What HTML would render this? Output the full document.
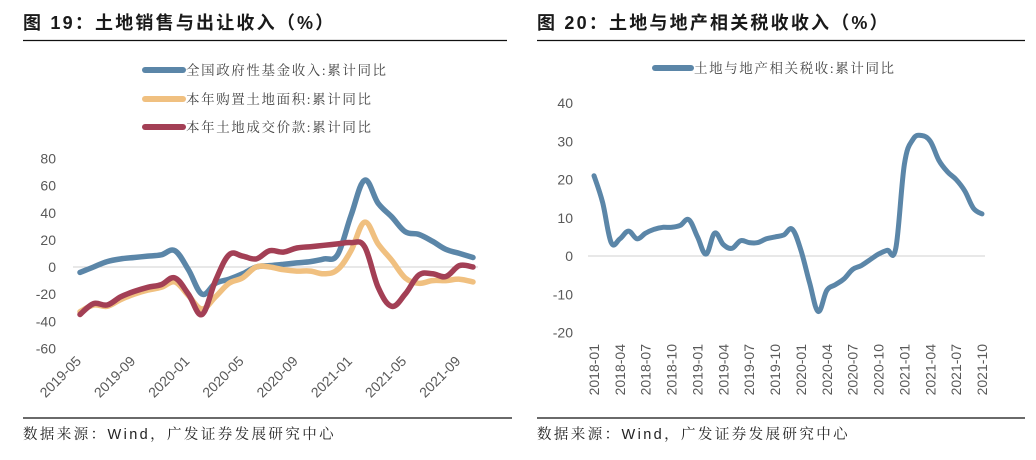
<!DOCTYPE html>
<html><head><meta charset="utf-8">
<style>
html,body{margin:0;padding:0;background:#fff;}
svg{display:block;}
.t{font-family:"Liberation Sans","Noto Sans CJK SC",sans-serif;font-weight:bold;font-size:18px;fill:#1a1a1a;letter-spacing:2.2px;}
.lg{font-family:"Liberation Serif","Noto Serif CJK SC",serif;font-size:13.5px;fill:#444;letter-spacing:1.6px;}
.src{font-family:"Liberation Sans","Noto Serif CJK SC",serif;font-size:14.5px;fill:#222;letter-spacing:2.4px;}
.tk{font-family:"Liberation Sans",sans-serif;font-size:14px;fill:#595959;}
</style></head>
<body>
<svg id="c" width="1036" height="460" viewBox="0 0 1036 460">
<text class="t" x="23" y="29">图 19：土地销售与出让收入（%）</text>
<text class="t" x="537" y="29">图 20：土地与地产相关税收收入（%）</text>
<line x1="23" y1="40.5" x2="507" y2="40.5" stroke="#111" stroke-width="1.3"/>
<line x1="537" y1="40.5" x2="1025" y2="40.5" stroke="#111" stroke-width="1.3"/>
<line x1="23" y1="418" x2="512" y2="418" stroke="#111" stroke-width="1.3"/>
<line x1="537" y1="418" x2="1025" y2="418" stroke="#111" stroke-width="1.3"/>
<text class="src" x="23" y="439">数据来源：Wind，广发证券发展研究中心</text>
<text class="src" x="537" y="439">数据来源：Wind，广发证券发展研究中心</text>

<g>
<line x1="145" y1="70" x2="183" y2="70" stroke="#5b86a8" stroke-width="6" stroke-linecap="round"/>
<text class="lg" x="186" y="75">全国政府性基金收入:累计同比</text>
<line x1="145" y1="99" x2="183" y2="99" stroke="#f0c080" stroke-width="6" stroke-linecap="round"/>
<text class="lg" x="186" y="104">本年购置土地面积:累计同比</text>
<line x1="145" y1="127" x2="183" y2="127" stroke="#a33f55" stroke-width="6" stroke-linecap="round"/>
<text class="lg" x="186" y="132">本年土地成交价款:累计同比</text>
</g>
<g>
<line x1="655" y1="68" x2="691" y2="68" stroke="#5b86a8" stroke-width="6" stroke-linecap="round"/>
<text class="lg" x="694" y="73">土地与地产相关税收:累计同比</text>
</g>
<g id="L"></g>
<g id="R"></g>
</svg>
<script>
// Left chart data (2019-05 .. 2021-10, monthly)
const leftCount = 30;
const leftTickLabels = ["2019-05","2019-09","2020-01","2020-05","2020-09","2021-01","2021-05","2021-09"];
const leftYTicks = [80,60,40,20,0,-20,-40,-60];
const fundRevenue = [-4,0,4,6,7,8,9,12,-2,-20,-12,-9,-5,0,1,2,3,4,6,9,38,64,47,37,26,24,19,13,10,7];
const landArea = [-33,-28,-29,-24,-20,-17,-15,-11,-21,-31,-22,-12,-8,0,0,-2,-3,-3,-5,-2,12,33,17,5,-8,-12,-10,-10,-9,-11];
const landPrice = [-35,-27,-28,-22,-18,-15,-13,-8,-20,-35,-10,9,8,6,12,11,14,15,16,17,18,15,-15,-29,-20,-6,-5,-7,1,0];
// Right chart data (2018-01 .. 2021-10, monthly)
const rightCount = 46;
const rightTickLabels = ["2018-01","2018-04","2018-07","2018-10","2019-01","2019-04","2019-07","2019-10","2020-01","2020-04","2020-07","2020-10","2021-01","2021-04","2021-07","2021-10"];
const rightYTicks = [40,30,20,10,0,-10,-20];
const taxRevenue = [21,14,3.5,4.5,6.5,4.5,6,7,7.5,7.5,8,9.5,5,0.5,6,3,2,4,3.5,3.5,4.5,5,5.5,7,1.5,-7,-14.5,-9,-7.5,-6,-3.5,-2.5,-1,0.5,1.5,2,24,30.5,31.5,30,25,22,20,17,12.5,11];

const NS="http://www.w3.org/2000/svg";
function mk(tag, attrs, parent){const e=document.createElementNS(NS,tag);for(const k in attrs)e.setAttribute(k,attrs[k]);parent.appendChild(e);return e;}

function smoothPath(pts){
  let d='M'+pts[0][0].toFixed(1)+' '+pts[0][1].toFixed(1);
  const t=0.18;
  for(let i=0;i<pts.length-1;i++){
    const p0=pts[Math.max(0,i-1)],p1=pts[i],p2=pts[i+1],p3=pts[Math.min(pts.length-1,i+2)];
    const c1=[p1[0]+(p2[0]-p0[0])*t,p1[1]+(p2[1]-p0[1])*t];
    const c2=[p2[0]-(p3[0]-p1[0])*t,p2[1]-(p3[1]-p1[1])*t];
    d+=` C${c1[0].toFixed(1)} ${c1[1].toFixed(1)} ${c2[0].toFixed(1)} ${c2[1].toFixed(1)} ${p2[0].toFixed(1)} ${p2[1].toFixed(1)}`;
  }
  return d;
}
function series(g,arr,xf,yf,color,name,w){
  const pts=arr.map((v,i)=>[xf(i),yf(v)]);
  const p=mk('path',{d:smoothPath(pts),fill:'none',stroke:color,'stroke-width':w,'stroke-linejoin':'round','stroke-linecap':'round'},g);
  
  
}

// Left axes
const lx = i => 80 + i*(393/(leftCount-1));
const ly = v => 267 - v*(108.5/80);
const L=document.getElementById('L');
const lz=mk('line',{x1:73,y1:ly(0),x2:478,y2:ly(0),stroke:'#d0d0d0','stroke-width':1},L);


leftYTicks.forEach(v=>{
  const t=mk('text',{x:56,y:ly(v)+5,'text-anchor':'end',class:'tk'},L);
  t.textContent=v;
  
  
});
leftTickLabels.forEach((s,k)=>{
  const x=lx(k*4)+2, y=362;
  const t=mk('text',{x:x,y:y,'text-anchor':'end',class:'tk',transform:`rotate(-45 ${x} ${y})`},L);
  t.textContent=s;
  
  
});
series(L,fundRevenue,lx,ly,'#5b86a8','fund-revenue-line',5.5);
series(L,landArea,lx,ly,'#f0c080','land-area-line',5.5);
series(L,landPrice,lx,ly,'#a33f55','land-price-line',5.5);

// Right axes
const rx = i => 594 + i*(388/(rightCount-1));
const ry = v => 256 - v*(153/40);
const R=document.getElementById('R');
const rz=mk('line',{x1:588,y1:ry(0),x2:985,y2:ry(0),stroke:'#d0d0d0','stroke-width':1},R);


rightYTicks.forEach(v=>{
  const t=mk('text',{x:573,y:ry(v)+5,'text-anchor':'end',class:'tk'},R);
  t.textContent=v;
  
  
});
rightTickLabels.forEach((s,k)=>{
  const x=rx(k*3)+5, y=344;
  const t=mk('text',{x:x,y:y,'text-anchor':'end',class:'tk',transform:`rotate(-90 ${x} ${y})`},R);
  t.textContent=s;
  
  
});
series(R,taxRevenue,rx,ry,'#5b86a8','tax-revenue-line',5);
</script>
</body></html>
